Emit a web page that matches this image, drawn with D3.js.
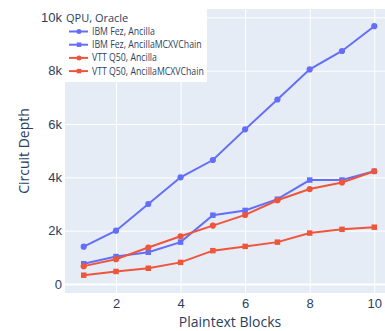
<!DOCTYPE html>
<html><head><meta charset="utf-8">
<script src="https://cdn.jsdelivr.net/npm/d3@7"></script>
<style>html,body{margin:0;padding:0;background:#fff;overflow:hidden}svg{display:block}</style>
</head><body>
<script>
const blocks = [1,2,3,4,5,6,7,8,9,10];
const ibmAncilla = [1400,2000,3000,4000,4650,5800,6920,8050,8740,9670];
const ibmMCXV = [760,1030,1190,1570,2580,2760,3180,3900,3900,4230];
const vttAncilla = [670,930,1370,1790,2190,2590,3140,3560,3810,4230];
const vttMCXV = [330,470,590,810,1250,1410,1570,1910,2050,2130];
const seriesNames = ["IBM Fez, Ancilla","IBM Fez, AncillaMCXVChain","VTT Q50, Ancilla","VTT Q50, AncillaMCXVChain"];
const seriesColors = ["#636efa","#636efa","#EF553B","#EF553B"];
const seriesSymbols = ["circle","square","circle","square"];
const xTicks = [2,4,6,8,10];
const yTicks = [0,2000,4000,6000,8000,10000];
const legendTitle = "QPU, Oracle";
const xTitle = "Plaintext Blocks";
const yTitle = "Circuit Depth";

const W = 385, H = 331;
const L = 65, R = 393, T = 9, B = 293;
const svg = d3.select("body").append("svg").attr("width", W).attr("height", H)
  .style("font-family", "'Open Sans', sans-serif");

const x = d3.scaleLinear().domain([0.42, 10.58]).range([L, R]);
const y = d3.scaleLinear().domain([-338, 10315]).range([B, T]);

svg.append("rect").attr("x", L).attr("y", T).attr("width", R - L).attr("height", B - T).attr("fill", "#E5ECF6");

const xAxis = d3.axisBottom(x).tickValues(xTicks).tickSize(-(B - T)).tickPadding(6).tickFormat(d3.format("d"));
const gx = svg.append("g").attr("transform", `translate(0,${B})`).call(xAxis);
const yAxis = d3.axisLeft(y).tickValues(yTicks).tickSize(-(R - L)).tickPadding(3)
  .tickFormat(d => d === 0 ? "0" : (d/1000) + "k");
const gy = svg.append("g").attr("transform", `translate(${L},0)`).call(yAxis);
[gx, gy].forEach(g => {
  g.select(".domain").remove();
  g.selectAll(".tick line").attr("stroke", "#fff").attr("stroke-width", 1);
  g.selectAll(".tick text").attr("fill", "#2a3f5f").style("font-size", "13px");
});
gy.selectAll(".tick").filter(d => d === 0).select("line").attr("stroke-width", 2);

svg.append("text").attr("x", 230).attr("y", 327).attr("text-anchor", "middle")
  .attr("fill", "#2a3f5f").style("font-size", "14px").text(xTitle);
svg.append("text").attr("transform", `translate(29,${(T + B) / 2}) rotate(-90)`).attr("text-anchor", "middle")
  .attr("fill", "#2a3f5f").style("font-size", "14px").text(yTitle);

const data = [ibmAncilla, ibmMCXV, vttAncilla, vttMCXV];
const line = d3.line().x((d, i) => x(blocks[i])).y(d => y(d));
const plot = svg.append("g");
data.forEach((vals, s) => {
  plot.append("path").datum(vals).attr("d", line).attr("fill", "none")
    .attr("stroke", seriesColors[s]).attr("stroke-width", 2);
  const sym = d3.symbol().type(seriesSymbols[s] === "circle" ? d3.symbolCircle : d3.symbolSquare).size(30);
  plot.selectAll(null).data(vals).enter().append("path")
    .attr("d", sym).attr("transform", (d, i) => `translate(${x(blocks[i])},${y(d)})`)
    .attr("fill", seriesColors[s]);
});

// legend
const lg = svg.append("g");
lg.append("rect").attr("x", 64).attr("y", 8).attr("width", 143).attr("height", 74).attr("fill", "#fff");
lg.append("text").attr("x", 66).attr("y", 22).attr("fill", "#2a3f5f").style("font-size", "11px").text(legendTitle);
seriesNames.forEach((n, i) => {
  const yy = 31.5 + i * 13.2;
  lg.append("line").attr("x1", 69).attr("x2", 88).attr("y1", yy).attr("y2", yy)
    .attr("stroke", seriesColors[i]).attr("stroke-width", 2);
  const sym = d3.symbol().type(seriesSymbols[i] === "circle" ? d3.symbolCircle : d3.symbolSquare).size(20);
  lg.append("path").attr("d", sym).attr("transform", `translate(79,${yy})`).attr("fill", seriesColors[i]);
  const t = lg.append("text").attr("x", 92).attr("y", yy + 3.5).attr("fill", "#2a3f5f")
    .style("font-size", "10px").text(n);
});
// fit legend item labels to the legend box width
const maxW = d3.max(lg.selectAll("text").filter((d, i) => i > 0).nodes(), n => n.getComputedTextLength());
const fit = 112 / maxW;
if (fit < 1) lg.selectAll("text").filter((d, i) => i > 0)
  .attr("transform", function() { return `translate(${92 * (1 - fit)},0) scale(${fit},1)`; });
</script>
</body></html>
